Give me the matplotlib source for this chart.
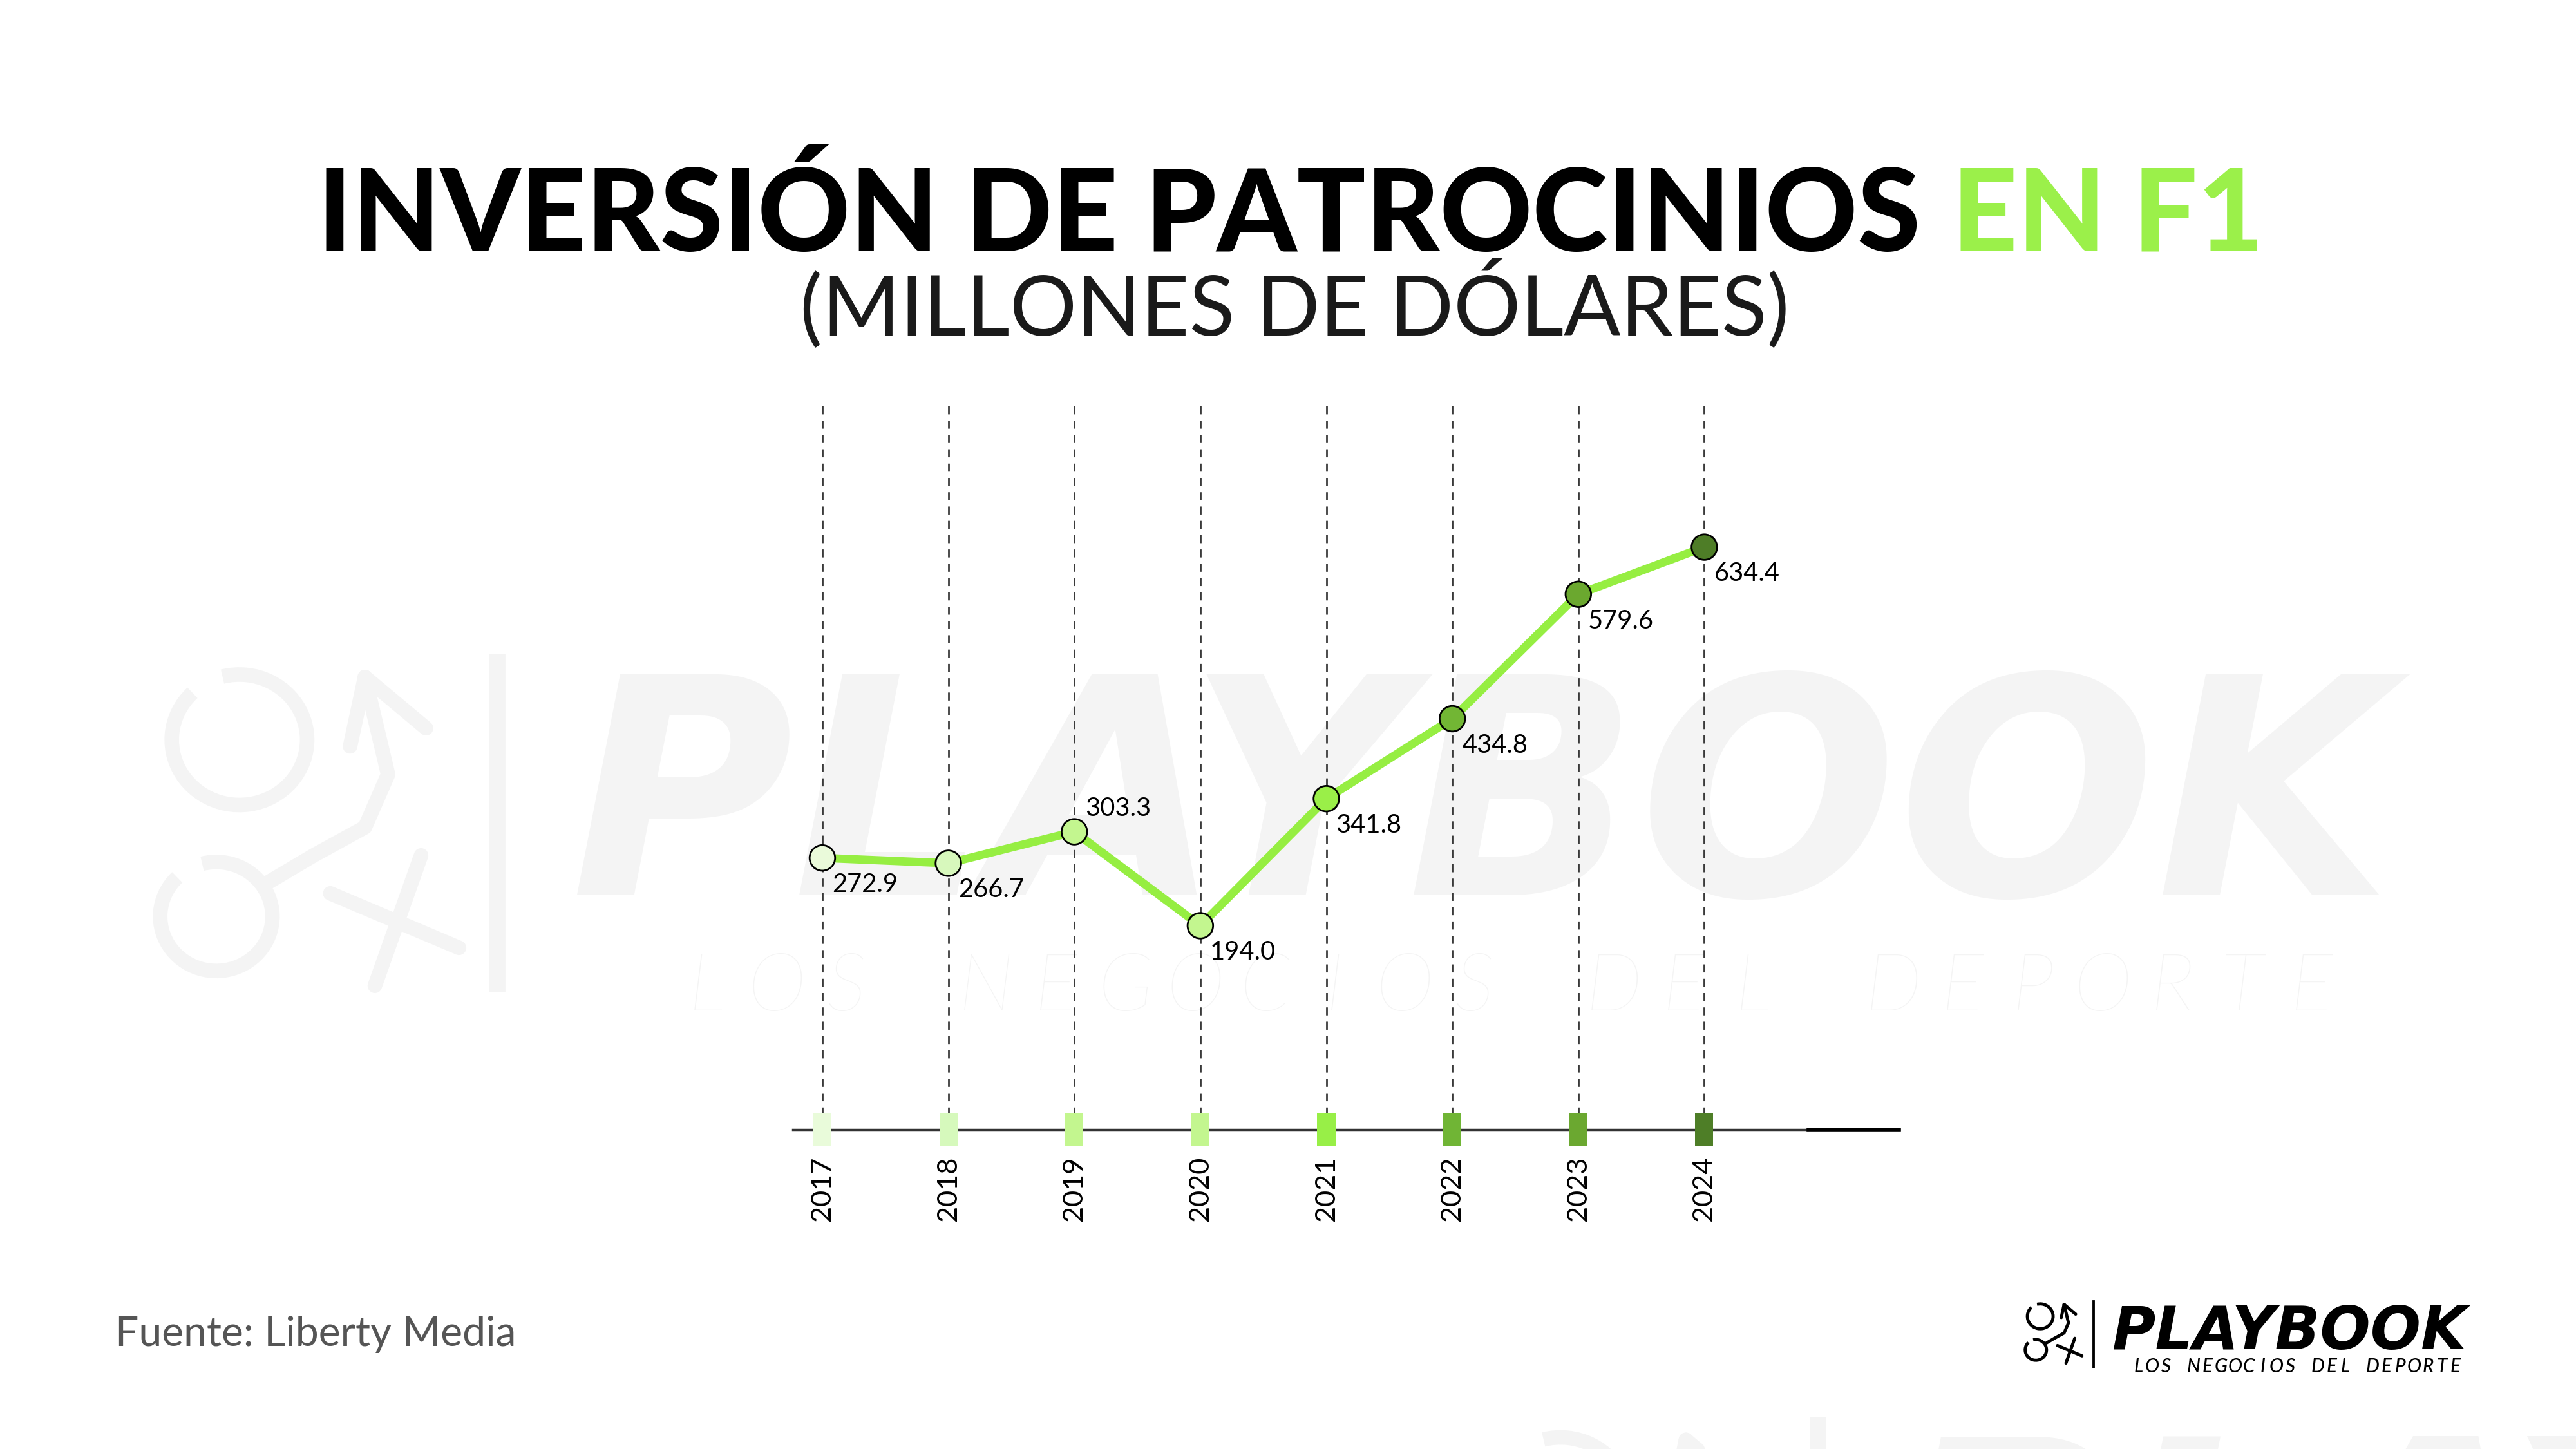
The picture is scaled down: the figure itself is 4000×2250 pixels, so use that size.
import numpy as np
import matplotlib
matplotlib.use('Agg')
import matplotlib.pyplot as plt
from matplotlib.patches import Arc
from matplotlib.path import Path

# ---------------------------------------------------------------
# data
# ---------------------------------------------------------------
years = ['2017', '2018', '2019', '2020', '2021', '2022', '2023', '2024']
inversion = [272.9, 266.7, 303.3, 194.0, 341.8, 434.8, 579.6, 634.4]
point_colors = ['#EAFADA', '#D7F8BC', '#C3F68F', '#C3F68F',
                '#9AEF48', '#72B634', '#6BA82F', '#4E7D27']
box_colors = ['#E9FBDA', '#D6F9BC', '#C3F68F', '#C3F68F',
              '#98EF47', '#70B535', '#6BA830', '#4E7E27']

title_main = 'INVERSIÓN DE PATROCINIOS'
title_green = 'EN F1'
subtitle = '(MILLONES DE DÓLARES)'
source = 'Fuente: Liberty Media'
brand = 'PLAYBOOK'
brand_sub = 'LOS NEGOCIOS DEL DEPORTE'

LINE_GREEN = '#96EE42'
TITLE_GREEN = '#9BF04A'
WM = '#F4F4F4'
FONT = ['Lato', 'DejaVu Sans']
WIDE = ['DejaVu Sans']

# ---------------------------------------------------------------
# figure + background canvas (units ~ 1560 x 877.5)
# ---------------------------------------------------------------
W, H = 1560, 877.5
fig = plt.figure(figsize=(16, 9), dpi=250)
bg = fig.add_axes([0, 0, 1, 1], zorder=0)
bg.set_xlim(0, W)
bg.set_ylim(H, 0)
bg.axis('off')


def draw_icon(x0, y0, k, color, lw):
    def P(x, y):
        return x0 + x * k, y0 + y * k
    for cx, cy, w, h in [(45, 43, 82, 79), (31, 150, 68, 66)]:
        bg.add_patch(Arc(P(cx, cy), w * k, h * k, theta1=255, theta2=585,
                         color=color, lw=lw))
    shaft = [(63, 129), (90, 113), (121, 96), (135, 64), (121, 5)]
    bg.plot(*zip(*[P(a, b) for a, b in shaft]), color=color, lw=lw,
            solid_capstyle='round', solid_joinstyle='round')
    for bx, by in [(112, 47), (158, 36)]:
        bg.plot(*zip(P(121, 5), P(bx, by)), color=color, lw=lw,
                solid_capstyle='round')
    bg.plot(*zip(P(100, 136), P(178, 169)), color=color, lw=lw, solid_capstyle='round')
    bg.plot(*zip(P(155, 113), P(127, 192)), color=color, lw=lw, solid_capstyle='round')


def spaced(text, x0, x1, base, size, color, weight):
    pitch = (x1 - x0) / (len(text) - 1)
    for i, c in enumerate(text):
        bg.text(x0 + i * pitch, base, c, fontsize=size, fontweight=weight,
                style='italic', family=FONT, color=color, ha='center', va='baseline')


def draw_watermark(dx, dy):
    draw_icon(100 + dx, 405 + dy, 1.0, WM, 6.5)
    bg.plot([301 + dx] * 2, [396 + dy, 601 + dy], color=WM, lw=7.4,
            solid_capstyle='butt')
    bg.text(345 + dx, 542 + dy, brand, fontsize=136, fontweight='bold',
            style='oblique', family=WIDE, color=WM, va='baseline')
    spaced(brand_sub, 428 + dx, 1400 + dx, 612 + dy, 36, WM, 'light')


draw_watermark(0, 0)
draw_watermark(800, 462)

# ---------------------------------------------------------------
# titles
# ---------------------------------------------------------------
t1 = bg.text(0, 152, title_main, fontsize=51, fontweight='black', family=FONT,
             color='black', va='baseline', ha='left')
t2 = bg.text(0, 152, title_green, fontsize=51, fontweight='black', family=FONT,
             color=TITLE_GREEN, va='baseline', ha='left')
fig.canvas.draw()
r = fig.canvas.get_renderer()
px = fig.dpi * 16 / W
w1 = t1.get_window_extent(r).width / px
w2 = t2.get_window_extent(r).width / px
gap = 19
x_start = 781.5 - (w1 + gap + w2) / 2
t1.set_x(x_start)
t2.set_x(x_start + w1 + gap)

bg.text(784, 203, subtitle, fontsize=37.5, fontweight='normal', family=FONT,
        color='#1a1a1a', ha='center', va='baseline')

bg.text(70, 815, source, fontsize=18.5, family=FONT, color='#555555',
        ha='left', va='baseline')

# bottom-right logo
draw_icon(1227, 789, 0.19, 'black', 1.4)
bg.plot([1268, 1268], [788, 828], color='black', lw=1.1)
bg.text(1279, 817, brand, fontsize=26.5, fontweight='bold', style='oblique',
        family=WIDE, color='black', va='baseline')
spaced(brand_sub, 1295, 1487, 831, 8.5, 'black', 'medium')

# ---------------------------------------------------------------
# chart
# ---------------------------------------------------------------
ax = fig.add_axes([480 / W, 1 - 684 / H, 670 / W, 442 / H], zorder=2)
ax.set_facecolor('none')
x = np.arange(len(years))
y_bot, y_top = -43, 806
ax.set_xlim(-0.236, 8.545)
ax.set_ylim(y_bot, y_top)

ax.vlines(x, y_bot, y_top, colors='#3a3a3a', lw=0.8,
          linestyles=(0, (4.5, 3.5)), zorder=1)
ax.axhline(y_bot, color='#333333', lw=1.0, clip_on=False, zorder=2)
ax.axhline(y_bot, xmin=0.918, xmax=1.0, color='black', lw=1.6, clip_on=False, zorder=2)

rect = Path([(-0.55, -1), (0.55, -1), (0.55, 1), (-0.55, 1), (-0.55, -1)],
            [Path.MOVETO, Path.LINETO, Path.LINETO, Path.LINETO, Path.CLOSEPOLY])
ax.scatter(x, [y_bot] * len(x), marker=rect, s=216, c=box_colors,
           linewidths=0, zorder=4, clip_on=False)

ax.plot(x, inversion, color=LINE_GREEN, lw=3.7, zorder=3,
        solid_capstyle='round', solid_joinstyle='round')
ax.scatter(x, inversion, s=130, c=point_colors, edgecolors='black',
           linewidths=0.8, zorder=5)

for i, v in enumerate(inversion):
    if i == 2:
        ax.annotate(f'{v:.1f}', (i, v), xytext=(5, 5), textcoords='offset points',
                    ha='left', va='bottom', fontsize=11.5, family=FONT, color='black')
    else:
        ax.annotate(f'{v:.1f}', (i, v), xytext=(4.4, -6.6), textcoords='offset points',
                    ha='left', va='top', fontsize=11.5, family=FONT, color='black')

for i, yr in enumerate(years):
    ax.annotate(yr, (i, y_bot), xytext=(0, -12), textcoords='offset points',
                rotation=90, ha='center', va='top', fontsize=12.5, family=FONT,
                color='black', annotation_clip=False)

for s in ax.spines.values():
    s.set_visible(False)
ax.set_xticks([])
ax.set_yticks([])

fig.savefig('out.png', dpi=250, facecolor='white')
